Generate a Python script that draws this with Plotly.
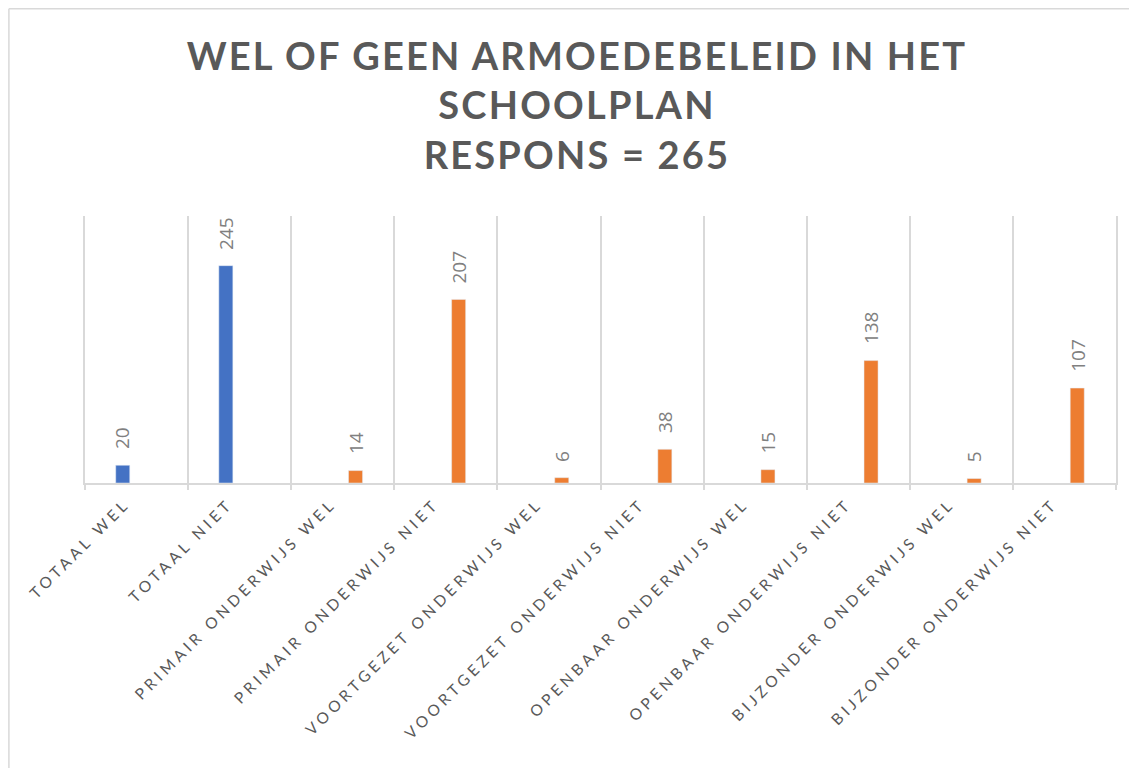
import plotly.graph_objects as go

categories = [
    "TOTAAL WEL", "TOTAAL NIET",
    "PRIMAIR ONDERWIJS WEL", "PRIMAIR ONDERWIJS NIET",
    "VOORTGEZET ONDERWIJS WEL", "VOORTGEZET ONDERWIJS NIET",
    "OPENBAAR ONDERWIJS WEL", "OPENBAAR ONDERWIJS NIET",
    "BIJZONDER ONDERWIJS WEL", "BIJZONDER ONDERWIJS NIET",
]
blue_values = [20, 245, None, None, None, None, None, None, None, None]
orange_values = [None, None, 14, 207, 6, 38, 15, 138, 5, 107]
title_lines = ["WEL OF GEEN ARMOEDEBELEID IN HET", "SCHOOLPLAN", "RESPONS = 265"]

BLUE = "#4472C4"
ORANGE = "#ED7D31"
BAR_W = 0.136
BLUE_OFF = -0.202
ORANGE_OFF = 0.056

# page body has an 8px margin; figure is placed at (8, 8)
W, H = 1121, 760
PL, PR, PT, PB = 85 - 8, 1129 - 1118, 216 - 8, 768 - 483
PW = W - PL - PR
PH = H - PT - PB

fig = go.Figure()
fig.add_trace(go.Bar(x=categories, y=blue_values, marker_color=BLUE,
                     width=BAR_W, offset=BLUE_OFF, name="Totaal"))
fig.add_trace(go.Bar(x=categories, y=orange_values, marker_color=ORANGE,
                     width=BAR_W, offset=ORANGE_OFF, name="Per type"))

annotations = []
for i, (b, o) in enumerate(zip(blue_values, orange_values)):
    if b is not None:
        annotations.append(dict(x=i + BLUE_OFF + BAR_W / 2, y=b, text=str(b)))
    if o is not None:
        annotations.append(dict(x=i + ORANGE_OFF + BAR_W / 2, y=o, text=str(o)))
for a in annotations:
    a.update(xref="x", yref="y", showarrow=False, textangle=-90,
             xanchor="center", yanchor="bottom", yshift=14,
             font=dict(family="Open Sans", size=19, color="#808080"))

tick_text = ['<span style="letter-spacing:4px">%s</span>' % c for c in categories]
title_text = "<br>".join('<span style="letter-spacing:2.2px">%s</span>' % t
                         for t in title_lines)

fig.update_layout(
    width=W, height=H,
    margin=dict(l=PL, r=PR, t=PT, b=PB),
    paper_bgcolor="white", plot_bgcolor="white",
    showlegend=False, barmode="overlay",
    title=dict(text=title_text, x=(577 - 8) / W, xref="container",
               xanchor="center", y=1 - 62 / H, yanchor="top", yref="container",
               font=dict(family="Lato", size=38, color="#595959", weight="bold")),
    annotations=annotations,
    xaxis=dict(type="category", tickson="boundaries", showgrid=True,
               gridcolor="#d9d9d9", gridwidth=1.5, showline=True,
               linecolor="#d9d9d9", linewidth=1.5, ticks="outside", ticklen=5,
               tickcolor="#d9d9d9", tickwidth=1.5, tickangle=-45,
               tickvals=categories, ticktext=tick_text,
               ticklabelshift=-11, ticklabelstandoff=4,
               tickfont=dict(family="Lato", size=15.5, color="#595959"),
               range=[-0.5, 9.5]),
    yaxis=dict(range=[0, 301], showgrid=False, zeroline=False,
               showticklabels=False, showline=True, mirror=True,
               linecolor="#d9d9d9", linewidth=1.5, ticks=""),
    shapes=[
        dict(type="line", xref="paper", yref="paper",
             x0=-(PL - 0.75) / PW, x1=-(PL - 0.75) / PW,
             y0=1 + (PT - 0.75) / PH, y1=-(PB + 10) / PH,
             line=dict(color="#d9d9d9", width=1.5)),
        dict(type="line", xref="paper", yref="paper",
             x0=-(PL - 0.75) / PW, x1=1 + (PR + 10) / PW,
             y0=1 + (PT - 0.75) / PH, y1=1 + (PT - 0.75) / PH,
             line=dict(color="#d9d9d9", width=1.5)),
    ],
)

fig.write_html("out.html")
